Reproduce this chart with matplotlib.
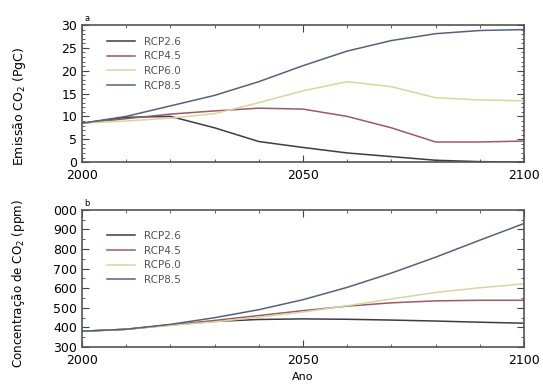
import matplotlib
matplotlib.use("Agg")
import matplotlib.pyplot as plt
import matplotlib.ticker as ticker

years = [2000, 2010, 2020, 2030, 2040, 2050, 2060, 2070, 2080, 2090, 2100]
scenarios = ["RCP2.6", "RCP4.5", "RCP6.0", "RCP8.5"]
colors = ["#3c3c46", "#9a5a66", "#d6d6a0", "#56627a"]

# Emissions (PgC/yr)
emis_26 = [8.5, 9.8, 10.0, 7.5, 4.5, 3.2, 2.0, 1.2, 0.4, 0.1, 0.0]
emis_45 = [8.5, 9.5, 10.5, 11.2, 11.8, 11.6, 10.0, 7.5, 4.4, 4.4, 4.6]
emis_60 = [8.5, 9.0, 9.6, 10.6, 13.0, 15.6, 17.6, 16.5, 14.1, 13.6, 13.4]
emis_85 = [8.5, 10.0, 12.3, 14.6, 17.6, 21.1, 24.3, 26.6, 28.1, 28.8, 29.0]

# Concentration (ppm)
conc_26 = [380, 390, 412, 430, 440, 443, 441, 437, 432, 426, 421]
conc_45 = [380, 390, 412, 435, 460, 485, 508, 525, 535, 538, 538]
conc_60 = [380, 390, 409, 428, 452, 478, 510, 545, 578, 602, 622]
conc_85 = [380, 390, 415, 449, 490, 541, 604, 677, 758, 845, 930]

emis = [emis_26, emis_45, emis_60, emis_85]
conc = [conc_26, conc_45, conc_60, conc_85]

fig = plt.figure(figsize=(5.43, 3.85), dpi=100)
ax1 = fig.add_axes([0.151, 0.579, 0.814, 0.356])
ax2 = fig.add_axes([0.151, 0.099, 0.814, 0.356])

for c, s, e in zip(colors, scenarios, emis):
    ax1.plot(years, e, color=c, linewidth=1.1, label=s)
for c, s, v in zip(colors, scenarios, conc):
    ax2.plot(years, v, color=c, linewidth=1.1, label=s)

ax1.set_ylim(0, 30)
ax1.set_yticks([0, 5, 10, 15, 20, 25, 30])
ax1.yaxis.set_minor_locator(ticker.MultipleLocator(1))
ax1.set_ylabel("Emissão CO$_2$ (PgC)", fontsize=9)
ax1.yaxis.set_label_coords(-0.122, 0.41)

ax2.set_ylim(300, 1000)
ax2.set_yticks([300, 400, 500, 600, 700, 800, 900, 1000])
ax2.set_yticklabels(["300", "400", "500", "600", "700", "800", "900", "000"])
ax2.yaxis.set_minor_locator(ticker.MultipleLocator(50))
ax2.set_ylabel("Concentração de CO$_2$ (ppm)", fontsize=8.6)
ax2.yaxis.set_label_coords(-0.124, 0.46)
ax2.set_xlabel("Ano", fontsize=8, labelpad=4)

for ax, lab, ly in [(ax1, "a", 0.915), (ax2, "b", 0.845)]:
    ax.set_xlim(2000, 2100)
    ax.set_xticks([2000, 2050, 2100])
    ax.xaxis.set_minor_locator(ticker.MultipleLocator(10))
    ax.tick_params(which="both", direction="in", top=True, right=True,
                   labelsize=9, color="#444444")
    ax.tick_params(which="major", length=5)
    ax.tick_params(which="minor", length=2.5)
    ax.tick_params(axis="x", pad=5)
    for sp in ax.spines.values():
        sp.set_color("#555555")
        sp.set_linewidth(1.2)
    ax.text(0.005, 1.03, lab, transform=ax.transAxes, fontsize=6)
    ax.legend(loc="upper left", bbox_to_anchor=(0.057, ly), frameon=False,
              borderaxespad=0, borderpad=0,
              fontsize=7.5, handlelength=2.7, handletextpad=0.8,
              labelspacing=0.45, labelcolor="#555555")

fig.savefig("out.png", dpi=100)
